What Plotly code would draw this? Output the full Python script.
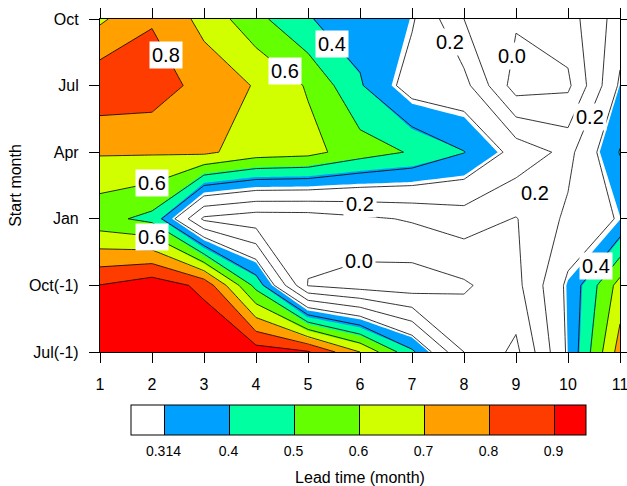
import numpy as np
import plotly.graph_objects as go

# ---------------- data ----------------
lead_months = [1, 2, 3, 4, 5, 6, 7, 8, 9, 10, 11]
start_month_labels = ["Jul(-1)", "Oct(-1)", "Jan", "Apr", "Jul", "Oct"]

corr_jul_m1 = [0.95, 0.97, 0.99, 0.95, 0.91, 0.70, 0.42, 0.10, -0.025, 0.316, 0.744]
corr_oct_m1 = [0.903, 0.96, 0.875, 0.467, -0.005, -0.044, -0.057, -0.015, 0.07, 0.322, 0.64]
corr_jan = [0.533, 0.472, 0.08, 0.04, 0.045, 0.08, 0.11, 0.15, 0.095, 0.22, 0.31]
corr_apr = [0.71, 0.71, 0.72, 0.65, 0.633, 0.546, 0.491, 0.403, 0.266, 0.17, 0.405]
corr_jul = [0.874, 0.86, 0.76, 0.693, 0.59, 0.41, 0.253, 0.235, -0.048, -0.02, 0.316]
corr_oct = [0.683, 0.79, 0.67, 0.53, 0.405, 0.36, 0.312, 0.10, 0.013, 0.056, 0.248]

fill_levels = [0.314, 0.4, 0.5, 0.6, 0.7, 0.8, 0.9]
fill_level_labels = ["0.314", "0.4", "0.5", "0.6", "0.7", "0.8", "0.9"]
fill_colors = ["#FFFFFF", "#00A0FF", "#00FFA0", "#64FF00",
               "#D2FF00", "#FF9F00", "#FF3C00", "#FF0000"]

label_text = ["0.8", "0.6", "0.4", "0.6", "0.6", "0.2", "0.0",
              "0.2", "0.2", "0.2", "0.0", "0.4"]
label_x = [2.27, 4.56, 5.46, 2.0, 2.0, 7.73, 8.92, 10.42, 9.37, 6.0, 5.98, 10.54]
label_y = [4.46, 4.22, 4.62, 2.54, 1.73, 4.65, 4.44, 3.53, 2.39, 2.22, 1.37, 1.29]

# ---------------- build figure ----------------
z = np.array([corr_jul_m1, corr_oct_m1, corr_jan, corr_apr, corr_jul, corr_oct])
y_idx = list(range(len(start_month_labels)))

# map the (non-uniform) fill levels onto a uniform 0.1 spacing for Plotly
uni = [0.3 + 0.1 * i for i in range(len(fill_levels))]


def to_uniform(v):
    out = np.empty_like(v, dtype=float)
    lo_slope = (uni[1] - uni[0]) / (fill_levels[1] - fill_levels[0])
    for idx, val in np.ndenumerate(v):
        if val <= fill_levels[0]:
            out[idx] = uni[0] + (val - fill_levels[0]) * lo_slope
        elif val >= fill_levels[-1]:
            out[idx] = uni[-1] + (val - fill_levels[-1])
        else:
            out[idx] = np.interp(val, fill_levels, uni)
    return out


zf = to_uniform(z)
n = len(fill_colors)
cscale = [[k / (n - 1), c] for k, c in enumerate(fill_colors)]
fill_contours = dict(start=uni[0], end=uni[-1], size=0.1, coloring="fill")

fig = go.Figure()
# trace providing the colour bar (hidden below the next one)
fig.add_trace(go.Contour(
    x=lead_months, y=y_idx, z=zf, colorscale=cscale, contours=fill_contours,
    line=dict(color="black", width=1, smoothing=0), hoverinfo="skip",
    showscale=True,
    colorbar=dict(
        orientation="h", x=0.497, xanchor="center", y=-0.158, yanchor="top",
        len=0.875, lenmode="fraction", thickness=30, xpad=0, ypad=0,
        outlinewidth=1, outlinecolor="black",
        tickvals=uni, ticktext=fill_level_labels,
        ticks="outside", ticklen=4, tickcolor="rgba(0,0,0,0)",
        tickfont=dict(size=14, color="black"),
    ),
))
# filled contours
fig.add_trace(go.Contour(
    x=lead_months, y=y_idx, z=zf, colorscale=cscale, contours=fill_contours,
    line=dict(width=0, smoothing=0), hoverinfo="skip", showscale=False,
))
# black contour lines every 0.1
fig.add_trace(go.Contour(
    x=lead_months, y=y_idx, z=z,
    contours=dict(start=0.0, end=0.9, size=0.1, coloring="none"),
    line=dict(color="black", width=0.8, smoothing=0),
    hoverinfo="skip", showscale=False,
))

for t, lx, ly in zip(label_text, label_x, label_y):
    fig.add_annotation(x=lx, y=ly, text=t, showarrow=False,
                       font=dict(size=20, color="black"),
                       bgcolor="white", borderpad=2)

axis_common = dict(showline=True, linecolor="black", linewidth=1.2,
                   mirror="ticks", ticks="outside", ticklen=10,
                   tickcolor="black", tickwidth=1.2, showgrid=False,
                   zeroline=False, automargin=False,
                   ticklabeloverflow="allow",
                   tickfont=dict(size=16, color="black"))

fig.update_layout(
    width=627, height=486,
    margin=dict(l=100, r=7, t=19, b=134, autoexpand=False),
    paper_bgcolor="white", plot_bgcolor="white",
    font=dict(family="Liberation Sans, Arial, Helvetica, sans-serif", color="black"),
    xaxis=dict(range=[1, 11], tickvals=lead_months, ticklabelstandoff=8,
               title=dict(text="Lead time (month)", font=dict(size=16),
                          standoff=80),
               **axis_common),
    yaxis=dict(range=[0, 5], tickvals=y_idx, ticktext=start_month_labels,
               ticklabelstandoff=7,
               title=dict(text="Start month", font=dict(size=16), standoff=3),
               **axis_common),
    showlegend=False,
)

# remove the default page margin so the 627x486 figure fills the window
fig.write_html(
    "out.html",
    config={"displayModeBar": False},
    post_script="document.body.style.margin='0px';"
                "document.body.style.overflow='hidden';",
)
